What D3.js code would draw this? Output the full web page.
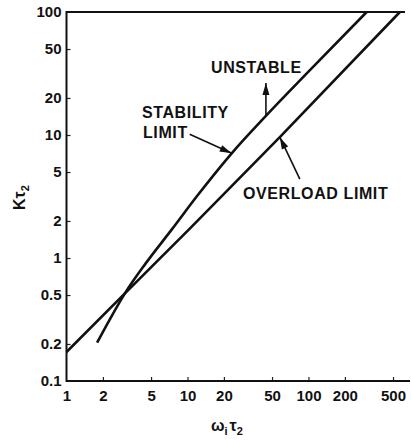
<!DOCTYPE html>
<html><head><meta charset="utf-8">
<script src="https://cdn.jsdelivr.net/npm/d3@7"></script>
<style>
body{margin:0;background:#fff}
svg text{font-family:"Liberation Sans",Arial,Helvetica,sans-serif;font-weight:bold;fill:#111}
</style></head><body><div id="chart"></div>
<script>
// values (log-log)
const xTicks = [1, 2, 5, 10, 20, 50, 100, 200, 500];
const yTicks = [0.1, 0.2, 0.5, 1, 2, 5, 10, 20, 50, 100];
const stabilityX = [1.79, 2.3, 3.04, 4.5, 7.4, 12, 23.2, 44.5, 100, 303];
const stabilityY = [0.205, 0.322, 0.516, 0.9, 1.7, 3.19, 7.1, 14.3, 32.7, 100];
const overloadX = [1, 3.04, 10.5, 58, 570];
const overloadY = [0.172, 0.516, 1.74, 9.6, 100];

const width = 411, height = 441;
const svg = d3.select("#chart").append("svg")
  .attr("width", width).attr("height", height);

const x = d3.scaleLog().domain([1, 665]).range([66.5, 408]);
const y = d3.scaleLog().domain([0.1, 100]).range([381, 12]);

// axes (inward ticks)
const xAxis = svg.append("g").attr("transform", "translate(0,381)")
  .call(d3.axisBottom(x).tickValues(xTicks).tickFormat(d3.format("~g"))
    .tickSizeInner(-4).tickSizeOuter(0).tickPadding(9));
const yAxis = svg.append("g").attr("transform", "translate(66.5,0)")
  .call(d3.axisLeft(y).tickValues(yTicks).tickFormat(d3.format("~g"))
    .tickSizeInner(-4).tickSizeOuter(0).tickPadding(5));
svg.selectAll(".domain").remove();
svg.selectAll(".tick line").attr("stroke", "#222").attr("stroke-width", 1.2);
svg.selectAll(".tick text").style("font-size", "15px").attr("fill", "#111");
xAxis.selectAll(".tick").filter(d => d == 1).select("line").remove();
yAxis.selectAll(".tick").filter(d => d == 0.1 || d == 100).select("line").remove();

// frame: left, bottom, top
svg.append("path")
  .attr("d", "M405,12 H66.5 V381 H410")
  .attr("fill", "none").attr("stroke", "#111").attr("stroke-width", 2);

const line = d3.line().x(d => x(d[0])).y(d => y(d[1]));
svg.append("path")
  .datum(stabilityX.map((v, i) => [v, stabilityY[i]]))
  .attr("d", line.curve(d3.curveMonotoneX))
  .attr("fill", "none").attr("stroke", "#111").attr("stroke-width", 2.6);
svg.append("path")
  .datum(overloadX.map((v, i) => [v, overloadY[i]]))
  .attr("d", line.curve(d3.curveLinear))
  .attr("fill", "none").attr("stroke", "#111").attr("stroke-width", 2.6);

// arrows
function arrow(x1, y1, x2, y2) {
  svg.append("line").attr("x1", x1).attr("y1", y1).attr("x2", x2).attr("y2", y2)
    .attr("stroke", "#111").attr("stroke-width", 1.6);
  const a = Math.atan2(y2 - y1, x2 - x1), L = 12, W = 3.5;
  const bx = x2 - L * Math.cos(a), by = y2 - L * Math.sin(a);
  const px = -Math.sin(a) * W, py = Math.cos(a) * W;
  svg.append("path")
    .attr("d", `M${x2},${y2} L${bx + px},${by + py} L${bx - px},${by - py} Z`)
    .attr("fill", "#111");
}
const ux = x(44.5), uy = y(14.3);
arrow(ux, uy, ux, uy - 33);
const sx = x(23.2), sy = y(7.1);
arrow(sx - 42, sy - 19, sx, sy);
const ox = x(58), oy = y(9.6);
arrow(ox + 20, oy + 42, ox, oy);

const lab = (t, px, py) => svg.append("text").attr("x", px).attr("y", py)
  .style("font-size", "16px").style("letter-spacing", "0.6px").text(t);
lab("UNSTABLE", 211, 73);
lab("STABILITY", 142, 118);
lab("LIMIT", 143, 138);
lab("OVERLOAD LIMIT", 243, 199);

// axis titles
const xt = svg.append("text").attr("x", 211).attr("y", 431).style("font-size", "16px");
xt.append("tspan").text("ω");
xt.append("tspan").text("i").attr("dy", 4).style("font-size", "11px");
xt.append("tspan").text("τ").attr("dy", -4).attr("dx", 2);
xt.append("tspan").text("2").attr("dy", 4).style("font-size", "11px");

const yt = svg.append("text").attr("transform", "translate(25,210) rotate(-90)")
  .style("font-size", "16px");
yt.append("tspan").text("K");
yt.append("tspan").text("τ");
yt.append("tspan").text("2").attr("dy", 4).style("font-size", "11px");
</script></body></html>
